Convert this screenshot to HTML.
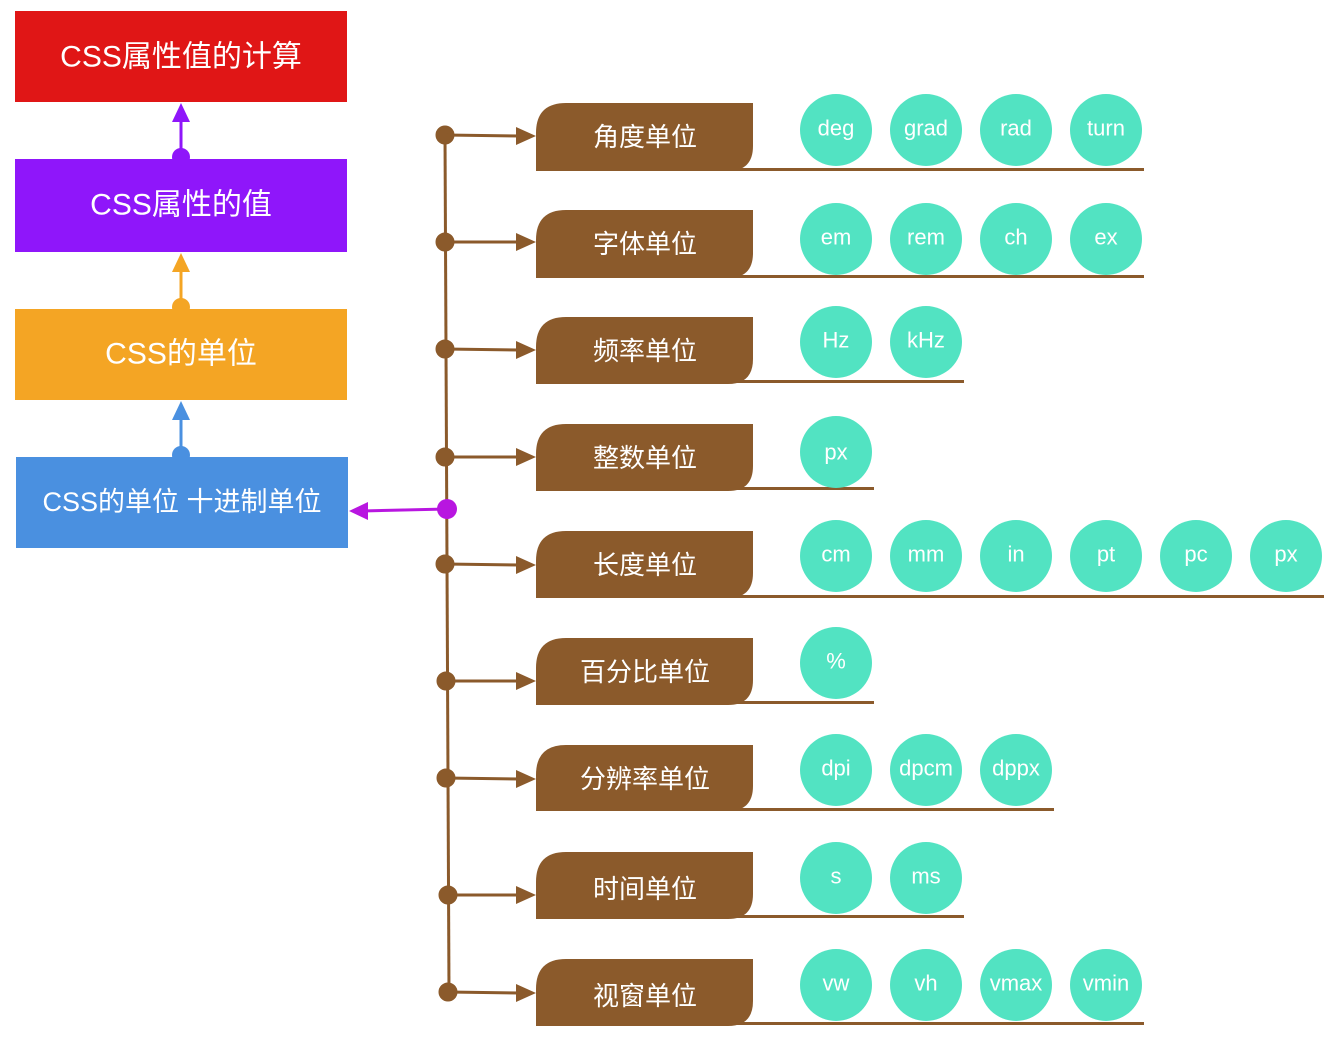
<!DOCTYPE html>
<html><head><meta charset="utf-8"><style>
html,body{margin:0;padding:0;background:#fff;}
svg{display:block;}
text{font-family:"Liberation Sans","Noto Sans CJK SC",sans-serif;fill:#fff;text-anchor:middle;dominant-baseline:central;}
</style></head><body>
<svg width="1337" height="1040" viewBox="0 0 1337 1040" xmlns="http://www.w3.org/2000/svg">
<!-- left stack -->
<rect x="15" y="11" width="332" height="91" fill="#e01616"/>
<text x="181" y="57" font-size="30">CSS属性值的计算</text>
<rect x="15" y="159" width="332" height="93" fill="#8f16fa"/>
<text x="181" y="205" font-size="30">CSS属性的值</text>
<rect x="15" y="309" width="332" height="91" fill="#f4a524"/>
<text x="181" y="354" font-size="30">CSS的单位</text>
<rect x="16" y="457" width="332" height="91" fill="#4a90e0"/>
<text x="182" y="502" font-size="27">CSS的单位 十进制单位</text>
<!-- vertical arrows -->
<g>
<circle cx="181" cy="157" r="9" fill="#8f16fa"/><line x1="181" y1="157" x2="181" y2="115" stroke="#8f16fa" stroke-width="3"/><polygon points="172,122 190,122 181,103" fill="#8f16fa"/>
<circle cx="181" cy="307" r="9" fill="#f4a524"/><line x1="181" y1="307" x2="181" y2="265" stroke="#f4a524" stroke-width="3"/><polygon points="172,272 190,272 181,253" fill="#f4a524"/>
<circle cx="181" cy="455" r="9" fill="#4a90e0"/><line x1="181" y1="455" x2="181" y2="413" stroke="#4a90e0" stroke-width="3"/><polygon points="172,420 190,420 181,401" fill="#4a90e0"/>
</g>
<!-- trunk -->
<line x1="445" y1="135" x2="449" y2="992" stroke="#8b5a2b" stroke-width="3"/>
<line x1="447" y1="509" x2="362" y2="511" stroke="#b816e0" stroke-width="3"/>
<polygon points="368,502 368,520 349,511" fill="#b816e0"/>
<circle cx="447" cy="509" r="10" fill="#b816e0"/>
<g fill="#8b5a2b">
<path d="M536,171 V133 Q536,103 566,103 H753 V146 Q753,171 728,171 Z"/><rect x="536" y="168" width="608" height="3"/>
<path d="M536,278 V240 Q536,210 566,210 H753 V253 Q753,278 728,278 Z"/><rect x="536" y="275" width="608" height="3"/>
<path d="M536,384 V347 Q536,317 566,317 H753 V359 Q753,384 728,384 Z"/><rect x="536" y="380" width="428" height="3"/>
<path d="M536,491 V454 Q536,424 566,424 H753 V466 Q753,491 728,491 Z"/><rect x="536" y="487" width="338" height="3"/>
<path d="M536,598 V561 Q536,531 566,531 H753 V573 Q753,598 728,598 Z"/><rect x="536" y="595" width="788" height="3"/>
<path d="M536,705 V668 Q536,638 566,638 H753 V680 Q753,705 728,705 Z"/><rect x="536" y="701" width="338" height="3"/>
<path d="M536,811 V775 Q536,745 566,745 H753 V786 Q753,811 728,811 Z"/><rect x="536" y="808" width="518" height="3"/>
<path d="M536,919 V882 Q536,852 566,852 H753 V894 Q753,919 728,919 Z"/><rect x="536" y="915" width="428" height="3"/>
<path d="M536,1026 V989 Q536,959 566,959 H753 V1001 Q753,1026 728,1026 Z"/><rect x="536" y="1022" width="608" height="3"/>
</g>
<g fill="#8b5a2b" stroke="#8b5a2b" stroke-width="3">
<circle cx="445" cy="135" r="8"/><line x1="445" y1="135" x2="520" y2="136"/><polygon stroke="none" points="516,127 516,145 536,136"/>
<circle cx="445" cy="242" r="8"/><line x1="445" y1="242" x2="520" y2="242"/><polygon stroke="none" points="516,233 516,251 536,242"/>
<circle cx="445" cy="349" r="8"/><line x1="445" y1="349" x2="520" y2="350"/><polygon stroke="none" points="516,341 516,359 536,350"/>
<circle cx="445" cy="457" r="8"/><line x1="445" y1="457" x2="520" y2="457"/><polygon stroke="none" points="516,448 516,466 536,457"/>
<circle cx="445" cy="564" r="8"/><line x1="445" y1="564" x2="520" y2="565"/><polygon stroke="none" points="516,556 516,574 536,565"/>
<circle cx="446" cy="681" r="8"/><line x1="446" y1="681" x2="520" y2="681"/><polygon stroke="none" points="516,672 516,690 536,681"/>
<circle cx="446" cy="778" r="8"/><line x1="446" y1="778" x2="520" y2="779"/><polygon stroke="none" points="516,770 516,788 536,779"/>
<circle cx="448" cy="895" r="8"/><line x1="448" y1="895" x2="520" y2="895"/><polygon stroke="none" points="516,886 516,904 536,895"/>
<circle cx="448" cy="992" r="8"/><line x1="448" y1="992" x2="520" y2="993"/><polygon stroke="none" points="516,984 516,1002 536,993"/>
</g>
<g font-size="26">
<text x="645" y="137">角度单位</text>
<text x="645" y="244">字体单位</text>
<text x="645" y="351">频率单位</text>
<text x="645" y="458">整数单位</text>
<text x="645" y="565">长度单位</text>
<text x="645" y="672">百分比单位</text>
<text x="645" y="779">分辨率单位</text>
<text x="645" y="889">时间单位</text>
<text x="645" y="996">视窗单位</text>
</g>
<g fill="#52e3c2">
<circle cx="836" cy="130" r="36"/><circle cx="926" cy="130" r="36"/><circle cx="1016" cy="130" r="36"/><circle cx="1106" cy="130" r="36"/>
<circle cx="836" cy="239" r="36"/><circle cx="926" cy="239" r="36"/><circle cx="1016" cy="239" r="36"/><circle cx="1106" cy="239" r="36"/>
<circle cx="836" cy="342" r="36"/><circle cx="926" cy="342" r="36"/>
<circle cx="836" cy="452" r="36"/>
<circle cx="836" cy="556" r="36"/><circle cx="926" cy="556" r="36"/><circle cx="1016" cy="556" r="36"/><circle cx="1106" cy="556" r="36"/><circle cx="1196" cy="556" r="36"/><circle cx="1286" cy="556" r="36"/>
<circle cx="836" cy="663" r="36"/>
<circle cx="836" cy="770" r="36"/><circle cx="926" cy="770" r="36"/><circle cx="1016" cy="770" r="36"/>
<circle cx="836" cy="878" r="36"/><circle cx="926" cy="878" r="36"/>
<circle cx="836" cy="985" r="36"/><circle cx="926" cy="985" r="36"/><circle cx="1016" cy="985" r="36"/><circle cx="1106" cy="985" r="36"/>
</g>
<g font-size="22">
<text x="836" y="128">deg</text><text x="926" y="128">grad</text><text x="1016" y="128">rad</text><text x="1106" y="128">turn</text>
<text x="836" y="237">em</text><text x="926" y="237">rem</text><text x="1016" y="237">ch</text><text x="1106" y="237">ex</text>
<text x="836" y="340">Hz</text><text x="926" y="340">kHz</text>
<text x="836" y="452">px</text>
<text x="836" y="554">cm</text><text x="926" y="554">mm</text><text x="1016" y="554">in</text><text x="1106" y="554">pt</text><text x="1196" y="554">pc</text><text x="1286" y="554">px</text>
<text x="836" y="661">%</text>
<text x="836" y="768">dpi</text><text x="926" y="768">dpcm</text><text x="1016" y="768">dppx</text>
<text x="836" y="876">s</text><text x="926" y="876">ms</text>
<text x="836" y="983">vw</text><text x="926" y="983">vh</text><text x="1016" y="983">vmax</text><text x="1106" y="983">vmin</text>
</g>
</svg>
</body></html>
